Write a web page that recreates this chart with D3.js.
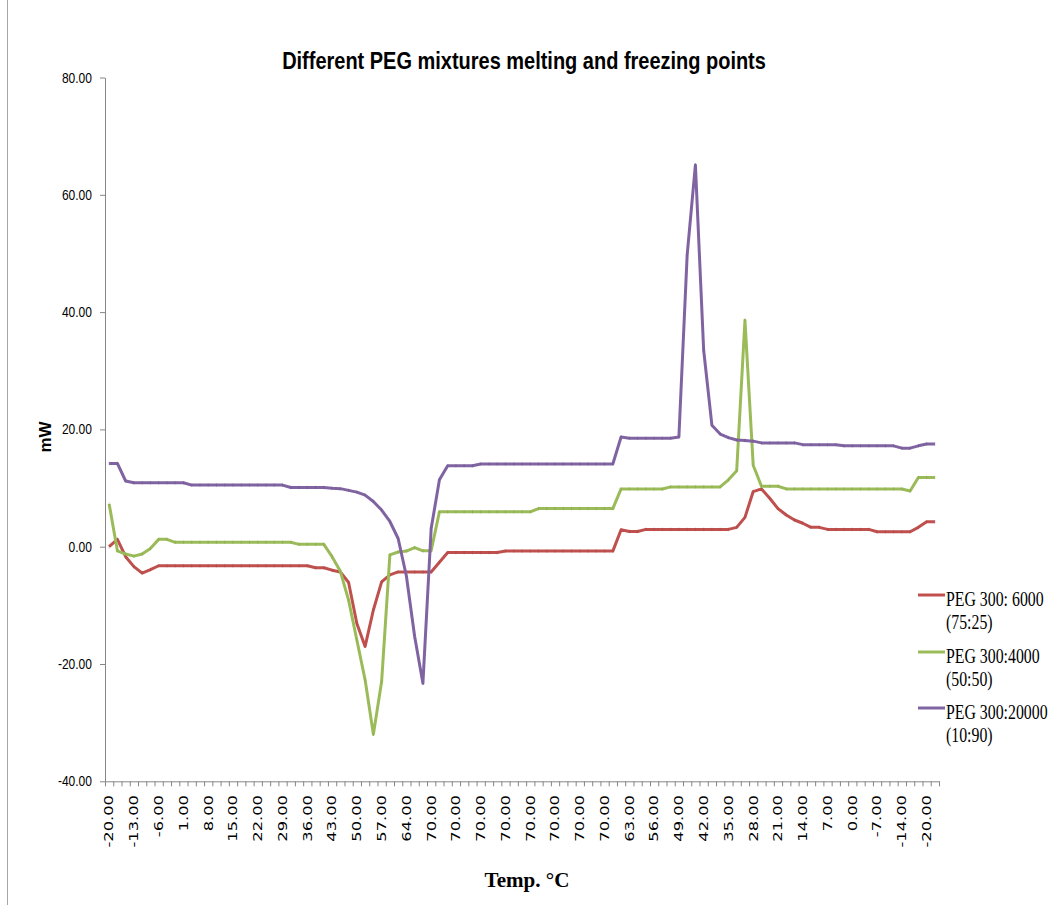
<!DOCTYPE html>
<html>
<head>
<meta charset="utf-8">
<script src="https://cdn.jsdelivr.net/npm/d3@7"></script>
<style>
  html, body { margin: 0; padding: 0; background: #ffffff; }
  svg { display: block; }
</style>
</head>
<body>
<svg id="chart" width="1052" height="905"></svg>
<script>
// Sample temperature (°C) for each reading: heating -20 -> 70, hold, cooling 70 -> -20
const temps = [
  -20, -17.67, -15.33, -13, -10.67, -8.33, -6, -3.67, -1.33, 1,
  3.33, 5.67, 8, 10.33, 12.67, 15, 17.33, 19.67, 22, 24.33,
  26.67, 29, 31.33, 33.67, 36, 38.33, 40.67, 43, 45.33, 47.67,
  50, 52.33, 54.67, 57, 59.33, 61.67, 64, 66.33, 68.67, 70,
  70, 70, 70, 70, 70, 70, 70, 70, 70, 70,
  70, 70, 70, 70, 70, 70, 70, 70, 70, 70,
  70, 67.67, 65.33, 63, 60.67, 58.33, 56, 53.67, 51.33, 49,
  46.67, 44.33, 42, 39.67, 37.33, 35, 32.67, 30.33, 28, 25.67,
  23.33, 21, 18.67, 16.33, 14, 11.67, 9.33, 7, 4.67, 2.33,
  0, -2.33, -4.67, -7, -9.33, -11.67, -14, -16.33, -18.67, -20,
  -20
];

// Heat flow (mW) per reading
const peg6000 = [
  0.0, 1.25, -1.7, -3.4, -4.5, -3.9, -3.25, -3.25, -3.25, -3.25,
  -3.25, -3.25, -3.25, -3.25, -3.25, -3.25, -3.25, -3.25, -3.25, -3.25,
  -3.25, -3.25, -3.25, -3.25, -3.25, -3.6, -3.6, -4.0, -4.3, -6.1,
  -13.1, -17.0, -10.8, -6.0, -4.8, -4.3, -4.3, -4.3, -4.3, -4.3,
  -2.65, -1.0, -1.0, -1.0, -1.0, -1.0, -1.0, -1.0, -0.75, -0.75,
  -0.75, -0.75, -0.75, -0.75, -0.75, -0.75, -0.75, -0.75, -0.75, -0.75,
  -0.75, -0.75, 2.9, 2.6, 2.6, 2.95, 2.95, 2.95, 2.95, 2.95,
  2.95, 2.95, 2.95, 2.95, 2.95, 2.95, 3.3, 5.0, 9.4, 9.85,
  8.25, 6.5, 5.4, 4.55, 4.0, 3.3, 3.3, 2.95, 2.95, 2.95,
  2.95, 2.95, 2.95, 2.55, 2.55, 2.55, 2.55, 2.55, 3.3, 4.25,
  4.25
];

const peg4000 = [
  7.3, -0.7, -1.25, -1.6, -1.25, -0.3, 1.25, 1.25, 0.75, 0.75,
  0.75, 0.75, 0.75, 0.75, 0.75, 0.75, 0.75, 0.75, 0.75, 0.75,
  0.75, 0.75, 0.75, 0.4, 0.4, 0.4, 0.4, -1.7, -4.2, -9.1,
  -15.9, -22.7, -32.0, -23.0, -1.4, -0.9, -0.75, -0.15, -0.7, -0.7,
  5.95, 5.95, 5.95, 5.95, 5.95, 5.95, 5.95, 5.95, 5.95, 5.95,
  5.95, 5.95, 6.5, 6.5, 6.5, 6.5, 6.5, 6.5, 6.5, 6.5,
  6.5, 6.5, 9.85, 9.85, 9.85, 9.85, 9.85, 9.85, 10.2, 10.2,
  10.2, 10.2, 10.2, 10.2, 10.2, 11.4, 12.95, 38.6, 13.9, 10.3,
  10.3, 10.3, 9.85, 9.85, 9.85, 9.85, 9.85, 9.85, 9.85, 9.85,
  9.85, 9.85, 9.85, 9.85, 9.85, 9.85, 9.85, 9.5, 11.8, 11.8,
  11.8
];

const peg20000 = [
  14.2, 14.2, 11.2, 10.9, 10.9, 10.9, 10.9, 10.9, 10.9, 10.9,
  10.5, 10.5, 10.5, 10.5, 10.5, 10.5, 10.5, 10.5, 10.5, 10.5,
  10.5, 10.5, 10.1, 10.1, 10.1, 10.1, 10.1, 9.95, 9.9, 9.6,
  9.3, 8.8, 7.7, 6.25, 4.3, 1.4, -5.0, -15.3, -23.3, 3.1,
  11.4, 13.8, 13.8, 13.8, 13.8, 14.1, 14.1, 14.1, 14.1, 14.1,
  14.1, 14.1, 14.1, 14.1, 14.1, 14.1, 14.1, 14.1, 14.1, 14.1,
  14.1, 14.1, 18.7, 18.5, 18.5, 18.5, 18.5, 18.5, 18.5, 18.7,
  49.7, 65.1, 33.5, 20.7, 19.2, 18.6, 18.2, 18.1, 18.0, 17.7,
  17.7, 17.7, 17.7, 17.7, 17.4, 17.4, 17.4, 17.4, 17.4, 17.2,
  17.2, 17.2, 17.2, 17.2, 17.2, 17.2, 16.8, 16.8, 17.2, 17.5,
  17.5
];

const seriesNames = [
  ["PEG 300: 6000", "(75:25)"],
  ["PEG 300:4000", "(50:50)"],
  ["PEG 300:20000", "(10:90)"]
];
const seriesColors = ["#C0504D", "#9BBB59", "#8064A2"];
const yTicks = [-40, -20, 0, 20, 40, 60, 80];
const labelEvery = 3;

const titleText = "Different PEG mixtures melting and freezing points";
const xTitle = "Temp. \u00B0C";
const yTitle = "mW";

const series = [peg6000, peg4000, peg20000];
const N = temps.length;

const svg = d3.select("#chart");
const plot = { left: 105, right: 939, top: 77.5, bottom: 781.3 };

const x = d3.scalePoint().domain(d3.range(N)).range([plot.left, plot.right]).padding(0.5);
const xEdge = d3.scaleLinear().domain([0, N]).range([plot.left, plot.right]);
const y = d3.scaleLinear().domain([-40, 80]).range([plot.bottom, plot.top]);

const axisColor = "#868686";

// Outer frame line on the left
svg.append("line")
  .attr("x1", 7.5).attr("x2", 7.5).attr("y1", 0).attr("y2", 905)
  .attr("stroke", "#a6a6a6").attr("stroke-width", 1);

// Draw a text item, then squeeze or stretch it to a given width
function addText(parent, str, opts) {
  const t = parent.append("text")
    .attr("x", 0).attr("y", 0)
    .attr("font-family", opts.family)
    .attr("font-size", opts.size)
    .attr("font-weight", opts.weight || "normal")
    .attr("text-anchor", opts.anchor || "start")
    .attr("fill", opts.fill || "#000")
    .text(str);
  let sx = opts.sx || 1;
  if (opts.width) sx = opts.width / t.node().getComputedTextLength();
  t.attr("transform", `translate(${opts.x},${opts.y}) scale(${sx},1)`);
  return t;
}

// Title
addText(svg, titleText, {
  x: 524, y: 69, family: "'Liberation Sans', Arial, sans-serif", size: 23,
  weight: "bold", anchor: "middle", width: 484
});

// Y axis
const yAxis = svg.append("g")
  .attr("transform", `translate(${plot.left},0)`)
  .call(d3.axisLeft(y).tickValues(yTicks).tickSize(5).tickSizeOuter(0).tickFormat(""));
yAxis.select(".domain").attr("stroke", axisColor);
yAxis.selectAll(".tick line").attr("stroke", axisColor);

const yLab = svg.append("g");
yTicks.forEach(v => {
  addText(yLab, v.toFixed(2), {
    x: 92, y: y(v) + 5, family: "'Liberation Sans', Arial, sans-serif", size: 14,
    anchor: "end", sx: 0.86, fill: "#000"
  });
});

// X axis: a tick at every category boundary
const xAxis = svg.append("g")
  .attr("transform", `translate(0,${plot.bottom})`)
  .call(d3.axisBottom(xEdge).tickValues(d3.range(0, N + 1)).tickSize(5).tickSizeOuter(0).tickFormat(""));
xAxis.select(".domain").attr("stroke", axisColor);
xAxis.selectAll(".tick line").attr("stroke", axisColor);

// Rotated category labels, every third reading
const xLab = svg.append("g");
d3.range(0, N, labelEvery).forEach(i => {
  xLab.append("text")
    .attr("transform", `translate(${x(i)},795) scale(1,1.36) rotate(-90)`)
    .attr("text-anchor", "end")
    .attr("dy", "0.36em")
    .attr("font-family", "'DejaVu Sans', Verdana, sans-serif")
    .attr("font-size", 12)
    .attr("fill", "#000")
    .text(temps[i].toFixed(2));
});

// Axis titles
addText(svg, xTitle, {
  x: 527, y: 887, family: "'Liberation Serif', 'Times New Roman', serif", size: 21,
  weight: "bold", anchor: "middle", width: 85
});
svg.append("text")
  .attr("transform", "translate(51,437) rotate(-90)")
  .attr("text-anchor", "middle")
  .attr("font-family", "'Liberation Sans', Arial, sans-serif")
  .attr("font-size", 17)
  .attr("font-weight", "bold")
  .text(yTitle);

// Series lines
const line = d3.line().x((d, i) => x(i)).y(d => y(d));
series.forEach((vals, s) => {
  svg.append("path")
    .datum(vals)
    .attr("fill", "none")
    .attr("stroke", seriesColors[s])
    .attr("stroke-width", 3)
    .attr("stroke-linejoin", "round")
    .attr("d", line);
  // small dash markers at each reading
  svg.append("g").selectAll("line")
    .data(vals)
    .join("line")
    .attr("x1", (d, i) => x(i)).attr("x2", (d, i) => x(i))
    .attr("y1", d => y(d) - 1.8).attr("y2", d => y(d) + 1.8)
    .attr("stroke", d3.color(seriesColors[s]).darker(0.6))
    .attr("stroke-opacity", 0.35)
    .attr("stroke-width", 1);
});

// Legend
const legendRows = [606, 663, 719];
const leg = svg.append("g");
seriesNames.forEach((lines, s) => {
  const by = legendRows[s];
  leg.append("line")
    .attr("x1", 918).attr("x2", 945)
    .attr("y1", by - 11).attr("y2", by - 11)
    .attr("stroke", seriesColors[s]).attr("stroke-width", 3);
  lines.forEach((txt, k) => {
    addText(leg, txt, {
      x: 946, y: by + k * 23, family: "'Liberation Serif', 'Times New Roman', serif",
      size: 22, anchor: "start", sx: 0.72, fill: "#000"
    });
  });
});
</script>
</body>
</html>
